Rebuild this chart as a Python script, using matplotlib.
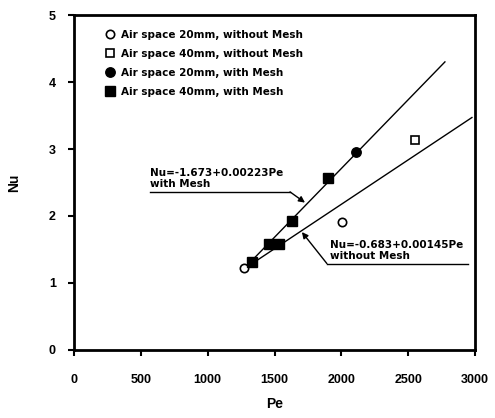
import matplotlib
matplotlib.use('Agg')
import matplotlib.pyplot as plt

plt.rcParams['font.family'] = ['Liberation Sans', 'DejaVu Sans']
plt.rcParams['font.weight'] = 'bold'

# data
pe_20_nomesh = [1270, 2004]
nu_20_nomesh = [1.22, 1.91]
pe_40_nomesh = [2550]
nu_40_nomesh = [3.14]
pe_20_mesh = [2109]
nu_20_mesh = [2.96]
pe_40_mesh = [1335, 1460, 1535, 1630, 1900]
nu_40_mesh = [1.32, 1.58, 1.58, 1.93, 2.57]

# fitted lines as drawn
fit_mesh_pe = [1265, 2775]
fit_mesh_nu = [1.2, 4.30]
fit_nomesh_pe = [1265, 2977]
fit_nomesh_nu = [1.2, 3.47]

# annotation leader lines
lead_mesh_pe = [568, 1616]
lead_mesh_nu = [2.36, 2.36]
tip_mesh = (1728, 2.20)
lead_nomesh_pe = [2947, 1892]
lead_nomesh_nu = [1.29, 1.29]
tip_nomesh = (1705, 1.76)

xticks = [0, 500, 1000, 1500, 2000, 2500, 3000]
yticks = [0, 1, 2, 3, 4, 5]

small = ['DejaVu Sans']

fig = plt.figure(figsize=(4.95, 4.18), dpi=100)
ax = fig.add_axes([0.1495, 0.1627, 0.8101, 0.8014])

ax.plot(fit_mesh_pe, fit_mesh_nu, color='black', lw=1.0)
ax.plot(fit_nomesh_pe, fit_nomesh_nu, color='black', lw=1.0)

ax.plot(pe_20_nomesh, nu_20_nomesh, 'o', ms=6, mfc='white', mec='black', mew=1.2,
        label='Air space 20mm, without Mesh')
ax.plot(pe_40_nomesh, nu_40_nomesh, 's', ms=6, mfc='white', mec='black', mew=1.2,
        label='Air space 40mm, without Mesh')
ax.plot(pe_20_mesh, nu_20_mesh, 'o', ms=6.8, color='black',
        label='Air space 20mm, with Mesh')
ax.plot(pe_40_mesh, nu_40_mesh, 's', ms=7, color='black',
        label='Air space 40mm, with Mesh')

# equation labels
ax.plot(lead_mesh_pe, lead_mesh_nu, color='black', lw=1.0)
ax.annotate('', xy=tip_mesh, xytext=(lead_mesh_pe[1], lead_mesh_nu[1]),
            arrowprops=dict(arrowstyle='-|>', color='black', lw=1.0, mutation_scale=9,
                            shrinkA=0, shrinkB=0))
ax.text(lead_mesh_pe[0], lead_mesh_nu[0] + 0.04, 'Nu=-1.673+0.00223Pe\nwith Mesh',
        fontsize=7.5, fontweight='bold', family=small, ha='left', va='bottom',
        linespacing=1.15)

ax.plot(lead_nomesh_pe, lead_nomesh_nu, color='black', lw=1.0)
ax.annotate('', xy=tip_nomesh, xytext=(lead_nomesh_pe[1], lead_nomesh_nu[1]),
            arrowprops=dict(arrowstyle='-|>', color='black', lw=1.0, mutation_scale=9,
                            shrinkA=0, shrinkB=0))
ax.text(lead_nomesh_pe[1] + 20, lead_nomesh_nu[1] + 0.04, 'Nu=-0.683+0.00145Pe\nwithout Mesh',
        fontsize=7.5, fontweight='bold', family=small, ha='left', va='bottom',
        linespacing=1.15)

ax.set_xlim(0, 3000)
ax.set_ylim(0, 5)
ax.set_xticks(xticks)
ax.set_yticks(yticks)
ax.tick_params(direction='out', length=4, width=1.5)
ax.tick_params(axis='x', pad=13)
ax.tick_params(axis='y', pad=9)
for lab in ax.get_xticklabels() + ax.get_yticklabels():
    lab.set_fontsize(9)
    lab.set_fontweight('bold')
for sp in ax.spines.values():
    sp.set_linewidth(2.0)

ax.set_xlabel('Pe', fontsize=10, fontweight='bold', labelpad=8)
ax.set_ylabel('Nu', fontsize=10, fontweight='bold', labelpad=20)

ax.legend(loc='upper left', bbox_to_anchor=(0.08, 0.955), frameon=False,
          prop={'size': 7.5, 'weight': 'bold', 'family': small},
          handlelength=0.8, handletextpad=0.6,
          labelspacing=0.85, borderpad=0, borderaxespad=0)

fig.savefig('out.png', dpi=100)
